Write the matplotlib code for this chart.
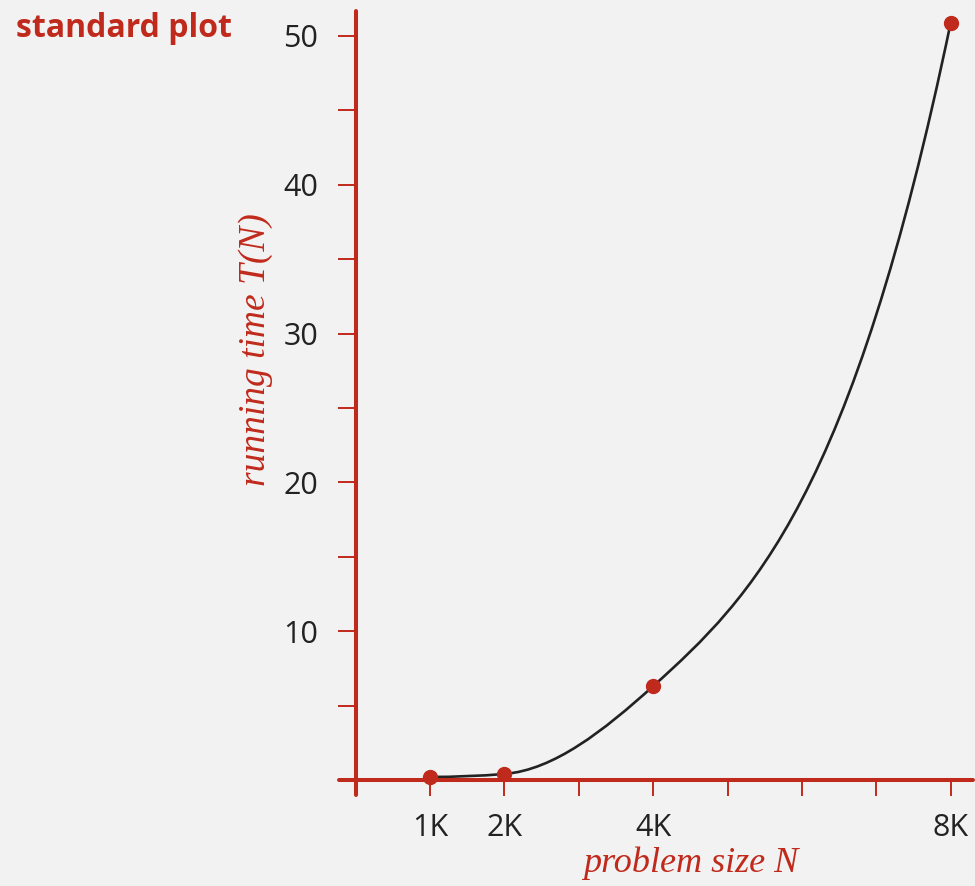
import matplotlib
matplotlib.use('Agg')
import matplotlib.pyplot as plt
from matplotlib.path import Path
from matplotlib.patches import PathPatch

# data (N in thousands)
sizes = [1, 2, 4, 8]
times = [0.2, 0.4, 6.3, 50.9]
curve_slopes = [0.0, 0.4, 4.5, 24.0]  # tangent of the drawn curve at each point

x_ticks = [1, 2, 3, 4, 5, 6, 7, 8]
x_labels = ['1K', '2K', '', '4K', '', '', '', '8K']
y_ticks = [5, 10, 15, 20, 25, 30, 35, 40, 45, 50]
y_labels = ['', '10', '', '20', '', '30', '', '40', '', '50']

RED = '#c02a1c'
BG = '#f2f2f2'
INK = '#222222'

def curve_path(xs, ys, ms):
    # smooth curve through the points, one cubic bezier per gap
    verts = [(xs[0], ys[0])]
    codes = [Path.MOVETO]
    for i in range(len(xs) - 1):
        h = (xs[i + 1] - xs[i]) / 3
        verts += [(xs[i] + h, ys[i] + ms[i] * h),
                  (xs[i + 1] - h, ys[i + 1] - ms[i + 1] * h),
                  (xs[i + 1], ys[i + 1])]
        codes += [Path.CURVE4] * 3
    return Path(verts, codes)

fig = plt.figure(figsize=(9.75, 8.86), dpi=100, facecolor=BG)
ax = fig.add_axes([0.3418, 0.0979, 0.6577, 0.8951])
ax.set_facecolor(BG)
ax.set_xlim(-0.3, 8.32)
ax.set_ylim(-1.3, 52)

ax.add_patch(PathPatch(curve_path(sizes, times, curve_slopes), facecolor='none',
                       edgecolor=INK, lw=1.9, zorder=3))
ax.plot(sizes, times, 'o', color=RED, ms=10, zorder=5, clip_on=False)

for s in ['top', 'right']:
    ax.spines[s].set_visible(False)
ax.spines['left'].set_position(('data', 0))
ax.spines['bottom'].set_position(('data', 0))
ax.spines['left'].set_bounds(-1.0, 51.7)
ax.spines['bottom'].set_bounds(-0.22, 8.3)
for s in ['left', 'bottom']:
    ax.spines[s].set_color(RED)
    ax.spines[s].set_linewidth(2.9)
    ax.spines[s].set_capstyle('round')
    ax.spines[s].set_zorder(4)

ax.set_xticks(x_ticks)
ax.set_xticklabels(x_labels)
ax.set_yticks(y_ticks)
ax.set_yticklabels(y_labels)
ax.tick_params(axis='x', direction='out', length=11.5, width=1.4, color=RED,
               pad=12, labelsize=22, labelcolor=INK)
ax.tick_params(axis='y', direction='out', length=13, width=1.4, color=RED,
               pad=14, labelsize=22, labelcolor=INK)
for lab in ax.get_xticklabels() + ax.get_yticklabels():
    lab.set_family('Open Sans')

fig.text(0.016, 0.958, 'standard plot', color=RED, fontsize=23, fontweight='bold',
         family='Open Sans', ha='left', va='baseline')
fig.text(0.262, 0.606, 'running time T(N)', color=RED, fontsize=27, style='italic',
         family='Liberation Serif', rotation=90, ha='center', va='center')
fig.text(0.708, 0.026, 'problem size N', color=RED, fontsize=26, style='italic',
         family='Liberation Serif', ha='center', va='center')

fig.savefig('out.png', dpi=100, facecolor=BG)
